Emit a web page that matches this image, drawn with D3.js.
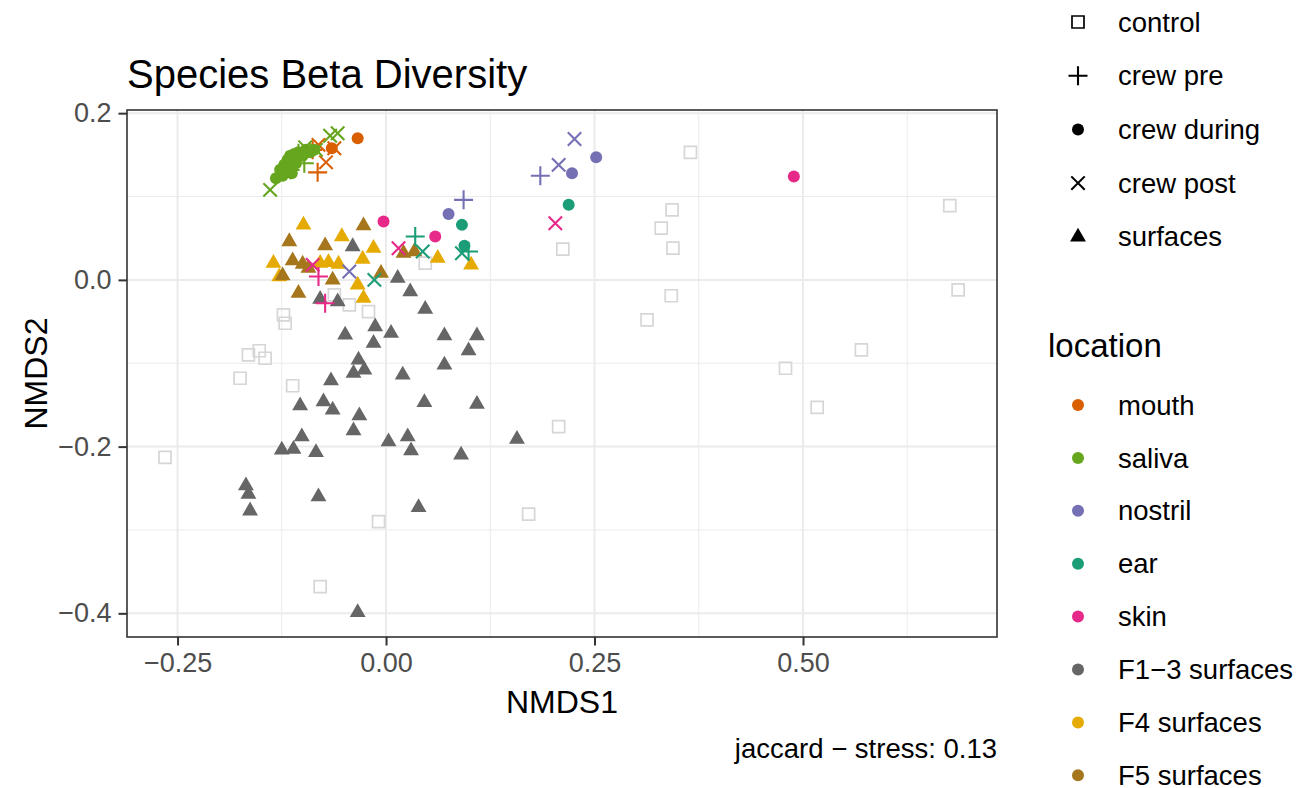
<!DOCTYPE html>
<html>
<head>
<meta charset="utf-8">
<script src="https://cdn.jsdelivr.net/npm/d3@7"></script>
<style>
body { margin: 0; background: #fff; }
svg text { font-family: "Liberation Sans", Arial, Helvetica, sans-serif; }
</style>
</head>
<body>
<svg id="chart" width="1310" height="788"></svg>
<script>
// ---- data ----
var phases = ["control", "crew pre", "crew during", "crew post", "surfaces"]
var locations = ["mouth", "saliva", "nostril", "ear", "skin", "F1\u22123 surfaces", "F4 surfaces", "F5 surfaces"]
var locColors = ["#D95F02", "#66A61E", "#7570B3", "#1B9E77", "#E7298A", "#666666", "#E6AB02", "#A6761D"]
var controlColor = "#d6d6d6"

var xTicks = [-0.25, 0, 0.25, 0.5]
var xMinor = [-0.125, 0.125, 0.375, 0.625]
var yTicks = [-0.4, -0.2, 0, 0.2]
var yMinor = [-0.3, -0.1, 0.1]

var controlPts = [
    [-0.265, -0.213], [-0.175, -0.118], [-0.165, -0.090], [-0.152, -0.085], [-0.145, -0.094], [-0.112, -0.127],
    [-0.123, -0.042], [-0.121, -0.052], [-0.062, -0.018], [-0.044, -0.030], [-0.021, -0.038], [0.047, 0.020],
    [-0.079, -0.368], [-0.009, -0.290], [0.171, -0.281], [0.207, -0.176], [0.212, 0.037], [0.313, -0.048],
    [0.342, -0.019], [0.330, 0.062], [0.343, 0.084], [0.344, 0.038], [0.365, 0.153], [0.479, -0.106],
    [0.517, -0.153], [0.570, -0.084], [0.676, 0.089], [0.686, -0.012]
]

var f13Pts = [
    [-0.040, 0.040], [0.014, 0.002], [0.029, -0.014], [0.047, -0.035], [-0.079, -0.023], [-0.058, -0.026],
    [-0.013, -0.056], [-0.049, -0.066], [0.006, -0.064], [-0.015, -0.076], [0.070, -0.067], [0.109, -0.067],
    [0.099, -0.085], [-0.033, -0.096], [-0.039, -0.112], [-0.026, -0.108], [0.020, -0.114], [0.070, -0.102],
    [-0.066, -0.121], [-0.103, -0.151], [-0.075, -0.146], [-0.064, -0.156], [-0.032, -0.163], [-0.039, -0.181],
    [0.046, -0.147], [0.109, -0.149], [-0.101, -0.188], [-0.125, -0.204], [-0.111, -0.203], [-0.084, -0.207],
    [0.003, -0.194], [0.026, -0.188], [0.030, -0.205], [0.090, -0.210], [0.157, -0.191], [-0.168, -0.247],
    [-0.165, -0.257], [-0.163, -0.277], [-0.081, -0.260], [0.039, -0.273], [-0.034, -0.399]
]

var f5Pts = [
    [-0.027, 0.065], [-0.116, 0.046], [-0.073, 0.041], [-0.112, 0.023], [-0.100, 0.019], [-0.124, 0.005],
    [-0.064, 0.000], [-0.105, -0.016], [-0.006, 0.008], [0.021, 0.032], [0.034, 0.034], [-0.093, 0.014]
]

var f4Pts = [
    [-0.099, 0.066], [-0.053, 0.052], [-0.015, 0.038], [-0.135, 0.020], [-0.128, 0.004], [-0.079, 0.020],
    [-0.069, 0.021], [-0.057, 0.019], [-0.028, 0.025], [-0.034, -0.006], [-0.027, -0.022], [0.062, 0.026],
    [0.102, 0.018]
]

// crew samples: [phase, NMDS1, NMDS2]
var salivaPts = [
    ["crew during", -0.132, 0.122], ["crew during", -0.127, 0.132], ["crew during", -0.122, 0.138],
    ["crew during", -0.118, 0.144], ["crew during", -0.115, 0.149], ["crew during", -0.110, 0.151],
    ["crew during", -0.105, 0.153], ["crew during", -0.100, 0.149], ["crew during", -0.096, 0.156],
    ["crew during", -0.124, 0.125], ["crew during", -0.116, 0.134], ["crew during", -0.108, 0.140],
    ["crew during", -0.091, 0.153], ["crew during", -0.086, 0.156], ["crew during", -0.113, 0.128],
    ["crew pre", -0.105, 0.152], ["crew pre", -0.098, 0.140], ["crew pre", -0.115, 0.132],
    ["crew post", -0.139, 0.108], ["crew post", -0.058, 0.176], ["crew post", -0.067, 0.173],
    ["crew post", -0.097, 0.159], ["crew post", -0.119, 0.134], ["crew post", -0.084, 0.156]
]
var mouthPts = [
    ["crew during", -0.034, 0.170], ["crew during", -0.065, 0.158],
    ["crew pre", -0.082, 0.129], ["crew pre", -0.088, 0.156],
    ["crew post", -0.081, 0.162], ["crew post", -0.072, 0.141], ["crew post", -0.062, 0.158]
]
var nostrilPts = [
    ["crew during", 0.075, 0.079], ["crew during", 0.223, 0.128], ["crew during", 0.252, 0.147],
    ["crew pre", 0.093, 0.096], ["crew pre", 0.185, 0.125],
    ["crew post", -0.044, 0.010], ["crew post", 0.207, 0.138], ["crew post", 0.226, 0.169]
]
var earPts = [
    ["crew during", 0.091, 0.066], ["crew during", 0.094, 0.041], ["crew during", 0.219, 0.090],
    ["crew pre", 0.035, 0.052], ["crew pre", 0.099, 0.034],
    ["crew post", 0.044, 0.034], ["crew post", 0.091, 0.032], ["crew post", -0.014, 0.000]
]
var skinPts = [
    ["crew during", -0.003, 0.070], ["crew during", 0.059, 0.052], ["crew during", 0.489, 0.124],
    ["crew pre", -0.081, 0.004], ["crew pre", -0.073, -0.028],
    ["crew post", 0.015, 0.038], ["crew post", -0.088, 0.018], ["crew post", 0.203, 0.068]
]

// ---- build one table in drawing order ----
var points = []
controlPts.forEach(p => points.push({phase: "control", color: controlColor, x: p[0], y: p[1]}))
f13Pts.forEach(p => points.push({phase: "surfaces", color: locColors[5], x: p[0], y: p[1]}))
f4Pts.forEach(p => points.push({phase: "surfaces", color: locColors[6], x: p[0], y: p[1]}))
f5Pts.forEach(p => points.push({phase: "surfaces", color: locColors[7], x: p[0], y: p[1]}))
var crew = [mouthPts, salivaPts, nostrilPts, earPts, skinPts]
crew.forEach((arr, i) => {
    arr.forEach(p => points.push({phase: p[0], color: locColors[i], x: p[1], y: p[2]}))
})

// ---- shapes, ggplot-like ----
var symSquare = {draw: function (c, s) { c.rect(-s, -s, 2 * s, 2 * s) }}
var symPlus = {draw: function (c, s) { c.moveTo(-s, 0); c.lineTo(s, 0); c.moveTo(0, -s); c.lineTo(0, s) }}
var symTimes = {draw: function (c, s) {
    var r = s / Math.SQRT2
    c.moveTo(-r, -r); c.lineTo(r, r); c.moveTo(-r, r); c.lineTo(r, -r)
}}
var symCircle = {draw: function (c, s) { c.moveTo(s, 0); c.arc(0, 0, s, 0, 2 * Math.PI) }}
var symTri = {draw: function (c, s) {
    c.moveTo(0, -1.5551 * s); c.lineTo(1.3468 * s, 0.7776 * s); c.lineTo(-1.3468 * s, 0.7776 * s); c.closePath()
}}

var shapeOf = {
    "control": {type: symSquare, size: 6, fill: false, sw: 1.7},
    "crew pre": {type: symPlus, size: 9.5, fill: false, sw: 2.1},
    "crew during": {type: symCircle, size: 6, fill: true, sw: 0},
    "crew post": {type: symTimes, size: 9.5, fill: false, sw: 2.1},
    "surfaces": {type: symTri, size: 5.9, fill: true, sw: 0}
}

function styleSym(sel, colorFn) {
    sel.attr("d", d => d3.symbol().type(shapeOf[d.phase].type).size(shapeOf[d.phase].size)())
        .attr("fill", d => shapeOf[d.phase].fill ? colorFn(d) : "none")
        .attr("stroke", d => shapeOf[d.phase].fill ? "none" : colorFn(d))
        .attr("stroke-width", d => shapeOf[d.phase].sw)
}

// ---- layout ----
var panel = {left: 127, top: 110, right: 997, bottom: 637}
var svg = d3.select("#chart")

var x = d3.scaleLinear().domain([-0.3106, 0.7326]).range([panel.left, panel.right])
var y = d3.scaleLinear().domain([-0.4284, 0.2038]).range([panel.bottom, panel.top])

svg.append("rect").attr("width", 1310).attr("height", 788).attr("fill", "#fff")

var grid = svg.append("g")
grid.selectAll(".xminor").data(xMinor).enter().append("line")
    .attr("x1", d => x(d)).attr("x2", d => x(d)).attr("y1", panel.top).attr("y2", panel.bottom)
    .attr("stroke", "#ebebeb").attr("stroke-width", 1)
grid.selectAll(".yminor").data(yMinor).enter().append("line")
    .attr("y1", d => y(d)).attr("y2", d => y(d)).attr("x1", panel.left).attr("x2", panel.right)
    .attr("stroke", "#ebebeb").attr("stroke-width", 1)
grid.selectAll(".xmajor").data(xTicks).enter().append("line")
    .attr("x1", d => x(d)).attr("x2", d => x(d)).attr("y1", panel.top).attr("y2", panel.bottom)
    .attr("stroke", "#ebebeb").attr("stroke-width", 2)
grid.selectAll(".ymajor").data(yTicks).enter().append("line")
    .attr("y1", d => y(d)).attr("y2", d => y(d)).attr("x1", panel.left).attr("x2", panel.right)
    .attr("stroke", "#ebebeb").attr("stroke-width", 2)

// points
svg.append("g").selectAll("path").data(points).enter().append("path")
    .attr("transform", d => "translate(" + x(d.x) + "," + y(d.y) + ")")
    .call(styleSym, d => d.color)

// border
svg.append("rect").attr("x", panel.left).attr("y", panel.top)
    .attr("width", panel.right - panel.left).attr("height", panel.bottom - panel.top)
    .attr("fill", "none").attr("stroke", "#333333").attr("stroke-width", 1.6)

// axes
var fmtMinus = s => s.replace("-", "\u2212")
var xAxis = svg.append("g").attr("transform", "translate(0," + panel.bottom + ")")
    .call(d3.axisBottom(x).tickValues(xTicks).tickSize(8.5).tickPadding(7)
        .tickFormat(d => fmtMinus(d3.format(".2f")(d))))
var yAxis = svg.append("g").attr("transform", "translate(" + panel.left + ",0)")
    .call(d3.axisLeft(y).tickValues(yTicks).tickSize(8.5).tickPadding(7)
        .tickFormat(d => fmtMinus(d3.format(".1f")(d))))
;[xAxis, yAxis].forEach(a => {
    a.select(".domain").remove()
    a.selectAll(".tick line").attr("stroke", "#333333").attr("stroke-width", 2)
    a.selectAll(".tick text").attr("fill", "#4d4d4d").style("font-size", "27px")
        .style("font-family", "'Liberation Sans', Arial, sans-serif")
})

// titles
svg.append("text").attr("x", panel.left).attr("y", 88)
    .style("font-size", "40px").text("Species Beta Diversity")
svg.append("text").attr("x", (panel.left + panel.right) / 2).attr("y", 713)
    .attr("text-anchor", "middle").style("font-size", "32px").text("NMDS1")
svg.append("text").attr("transform", "translate(47," + (panel.top + panel.bottom) / 2 + ") rotate(-90)")
    .attr("text-anchor", "middle").style("font-size", "32px").text("NMDS2")
svg.append("text").attr("x", panel.right).attr("y", 758)
    .attr("text-anchor", "end").style("font-size", "27.5px").text("jaccard \u2212 stress: 0.13")

// legend: shapes
var leg1 = svg.append("g")
var shapeRows = leg1.selectAll("g").data(phases).enter().append("g")
    .attr("transform", (d, i) => "translate(1078," + (22 + i * 53.7) + ")")
shapeRows.append("path").datum(d => ({phase: d})).call(styleSym, d => "#000")
shapeRows.append("text").attr("x", 40).attr("dy", "0.35em").style("font-size", "27.5px").text(d => d)

// legend: location
svg.append("text").attr("x", 1048).attr("y", 357).style("font-size", "33px").text("location")
var locRows = svg.append("g").selectAll("g").data(locations).enter().append("g")
    .attr("transform", (d, i) => "translate(1078," + (405 + i * 52.9) + ")")
locRows.append("path").datum((d, i) => ({phase: "crew during", color: locColors[i]}))
    .call(styleSym, d => d.color)
locRows.append("text").attr("x", 40).attr("dy", "0.35em").style("font-size", "27.5px").text(d => d)
</script>
</body>
</html>
